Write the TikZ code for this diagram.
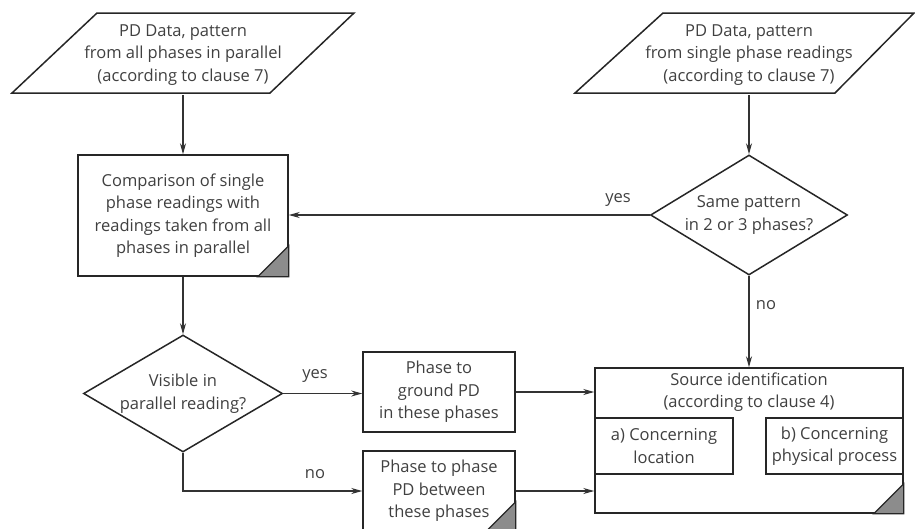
\documentclass[tikz,border=0pt]{standalone}
\usepackage{fontspec}
\setmainfont{Open Sans}
\usetikzlibrary{arrows.meta,calc,shapes.geometric}
\begin{document}
\begin{tikzpicture}[x=1pt,y=-1pt,
  txt/.style={align=center,text=black!75,font=\fontsize{16.5}{22.5}\selectfont,inner sep=0pt},
  boxline/.style={draw=black!85,line width=1.5pt},
  rectbox/.style={txt,boxline,rectangle,fill=white},
  decision/.style={txt,boxline,diamond,aspect=1.7,fill=white},
  conn/.style={draw=black!80,line width=1.1pt,-{Stealth[length=11pt,width=6pt]}},
  lbl/.style={text=black!75,font=\fontsize{16.5}{18}\selectfont,inner sep=0pt},
  corner/.style={fill=black!45,draw=black!85,line width=1.2pt}
]
\useasboundingbox (0,0) rectangle (915,528);

% input parallelograms
\node[txt,minimum width=250pt,minimum height=80pt] (p1) at (183,55) {PD Data, pattern\\from all phases in parallel\\(according to clause 7)};
\draw[boxline,line join=miter] ($(p1.center)+(-86,-42)$) -- ($(p1.center)+(171,-42)$) -- ($(p1.center)+(87,38)$) -- ($(p1.center)+(-171,38)$) -- cycle;

\node[txt,minimum width=250pt,minimum height=80pt] (p2) at (749,55) {PD Data, pattern\\from single phase readings\\(according to clause 7)};
\draw[boxline,line join=miter] ($(p2.center)+(-86,-42)$) -- ($(p2.center)+(165,-42)$) -- ($(p2.center)+(86,38)$) -- ($(p2.center)+(-174,38)$) -- cycle;

% comparison box
\node[rectbox,minimum width=210pt,minimum height=121pt] (cmp) at (183,215.5) {Comparison of single\\phase readings with\\readings taken from all\\phases in parallel};
\draw[corner] ($(cmp.south east)+(-31,0)$) -- (cmp.south east) -- ($(cmp.south east)+(0,-31)$) -- cycle;

% decisions
\node[decision,minimum width=197pt,minimum height=120pt] (d2) at (749,215) {Same pattern\\in 2 or 3 phases?};
\node[decision,minimum width=199pt,minimum height=117pt] (d1) at (183,393.5) {Visible in\\parallel reading?};

% phase boxes
\node[rectbox,minimum width=152pt,minimum height=80pt] (g) at (439,392) {Phase to\\ground PD\\in these phases};
\node[rectbox,minimum width=152pt,minimum height=80pt] (pp) at (439,491) {Phase to phase\\PD between\\these phases};
\draw[corner] ($(pp.south east)+(-30,0)$) -- (pp.south east) -- ($(pp.south east)+(0,-30)$) -- cycle;

% source identification
\node[rectbox,minimum width=308pt,minimum height=145pt] (src) at (749,440.5) {};
\node[txt,anchor=north] (srct) at ($(src.north)+(0,5)$) {Source identification\\(according to clause 4)};
\node[rectbox,minimum width=138pt,minimum height=56pt] (sa) at (664,446) {a) Concerning\\location};
\node[rectbox,minimum width=137pt,minimum height=56pt] (sb) at (834.5,446) {b) Concerning\\physical process};
\draw[corner] ($(src.south east)+(-30,0)$) -- (src.south east) -- ($(src.south east)+(0,-30)$) -- cycle;

% connectors
\draw[conn] (p1.south) -- (cmp.north);
\draw[conn] (p2.south) -- (d2.north);
\draw[conn] (d2.west) -- (d2.west -| cmp.east);
\node[lbl] at (618,200) {yes};
\draw[conn] (cmp.south) -- (d1.north);
\draw[conn] (d1.east) -- (d1.east -| g.west);
\node[lbl] at (315,376) {yes};
\draw[conn] (d1.south) |- (pp.west);
\node[lbl] at (315,474) {no};
\draw[conn] (d2.south) -- (src.north);
\node[lbl] at (766,305) {no};
\draw[conn] (g.east) -- (g.east -| src.west);
\draw[conn] (pp.east) -- (pp.east -| src.west);
\end{tikzpicture}
\end{document}
